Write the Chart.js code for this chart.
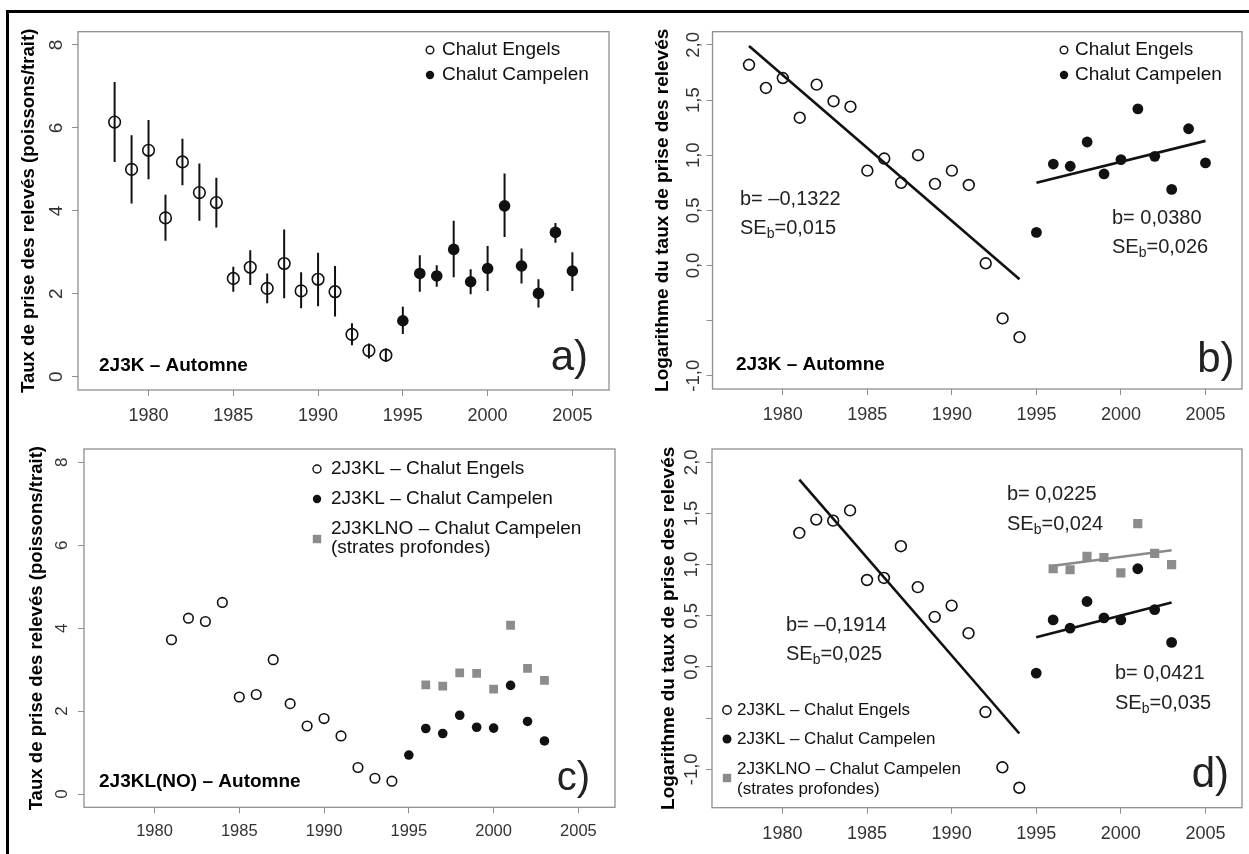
<!DOCTYPE html>
<html lang="fr">
<head>
<meta charset="utf-8">
<title>Taux de prise des relevés – 2J3K / 2J3KL(NO)</title>
<script src="https://cdn.jsdelivr.net/npm/chart.js@4.4.1/dist/chart.umd.min.js"></script>
<style>
    html, body { margin: 0; padding: 0; background: #fff; }
    #page { position: relative; width: 1249px; height: 854px; overflow: hidden; background: #fff; }
    #frame { position: absolute; left: 6px; top: 10px; width: 1400px; height: 1000px;
             border-top: 3px solid #000; border-left: 3px solid #000; }
    canvas { position: absolute; }
</style>
</head>
<body>
<div id="page">
    <div id="frame"></div>
    <canvas id="panel-a" width="612" height="413" style="left:10px;top:14px"></canvas>
    <canvas id="panel-b" width="625" height="413" style="left:624px;top:14px"></canvas>
    <canvas id="panel-c" width="612" height="424" style="left:10px;top:430px"></canvas>
    <canvas id="panel-d" width="625" height="424" style="left:624px;top:430px"></canvas>
</div>
<script>
const FAMILY = "'Liberation Sans', Arial, Helvetica, sans-serif";
const INK = '#111';
const GREY = '#8c8c8c';
const BOX = '#8f8f8f';
const TICK_INK = '#333';

// Shared axes
const X_MIN = 1975.84;
const X_MAX = 2007.16;
const X_TICKS = [1980, 1985, 1990, 1995, 2000, 2005];
const RATE_TICKS = [0, 2, 4, 6, 8];
const RATE_LABELS = ['0', '2', '4', '6', '8'];
const LOG_TICKS = [-1, -0.5, 0, 0.5, 1, 1.5, 2];
const LOG_LABELS = ['-1,0', '', '0,0', '0,5', '1,0', '1,5', '2,0'];

// 2J3K (a, b)
const YEARS_2J3K_ENGELS = [1978, 1979, 1980, 1981, 1982, 1983, 1984, 1985, 1986, 1987, 1988, 1989, 1990, 1991, 1992, 1993, 1994];
const YEARS_2J3K_CAMPELEN = [1995, 1996, 1997, 1998, 1999, 2000, 2001, 2002, 2003, 2004, 2005];

const RATE_2J3K_ENGELS    = [6.14, 5.00, 5.46, 3.83, 5.18, 4.44, 4.20, 2.37, 2.64, 2.13, 2.73, 2.07, 2.35, 2.05, 1.02, 0.63, 0.52];
const RATE_2J3K_ENGELS_LO = [5.18, 4.18, 4.76, 3.28, 4.62, 3.76, 3.60, 2.05, 2.21, 1.77, 1.89, 1.65, 1.70, 1.45, 0.76, 0.44, 0.36];
const RATE_2J3K_ENGELS_HI = [7.11, 5.82, 6.19, 4.39, 5.74, 5.14, 4.80, 2.65, 3.05, 2.49, 3.55, 2.52, 2.99, 2.67, 1.29, 0.80, 0.68];
const RATE_2J3K_CAMPELEN    = [1.35, 2.49, 2.43, 3.07, 2.29, 2.61, 4.12, 2.67, 2.01, 3.48, 2.55];
const RATE_2J3K_CAMPELEN_LO = [1.03, 2.05, 2.17, 2.40, 1.99, 2.07, 3.37, 2.25, 1.67, 3.23, 2.07];
const RATE_2J3K_CAMPELEN_HI = [1.69, 2.93, 2.69, 3.76, 2.59, 3.15, 4.90, 3.09, 2.35, 3.71, 3.00];

const LOG_2J3K_ENGELS   = [1.82, 1.61, 1.70, 1.34, 1.64, 1.49, 1.44, 0.86, 0.97, 0.75, 1.00, 0.74, 0.86, 0.73, 0.02, -0.48, -0.65];
const LOG_2J3K_CAMPELEN = [0.30, 0.92, 0.90, 1.12, 0.83, 0.96, 1.42, 0.99, 0.69, 1.24, 0.93];
const FIT_2J3K_ENGELS_YEARS = [1978, 1994];
const FIT_2J3K_ENGELS       = [1.99, -0.125];
const FIT_2J3K_CAMPELEN_YEARS = [1995, 2005];
const FIT_2J3K_CAMPELEN       = [0.75, 1.13];

// 2J3KL(NO) (c, d)
const YEARS_2J3KL_ENGELS = [1981, 1982, 1983, 1984, 1985, 1986, 1987, 1988, 1989, 1990, 1991, 1992, 1993, 1994];
const YEARS_2J3KL_CAMPELEN = [1995, 1996, 1997, 1998, 1999, 2000, 2001, 2002, 2003];
const YEARS_DEEP = [1996, 1997, 1998, 1999, 2000, 2001, 2002, 2003];

const RATE_2J3KL_ENGELS   = [3.72, 4.24, 4.16, 4.62, 2.34, 2.40, 3.24, 2.18, 1.64, 1.82, 1.40, 0.64, 0.38, 0.31];
const RATE_2J3KL_CAMPELEN = [0.94, 1.58, 1.46, 1.90, 1.61, 1.59, 2.62, 1.75, 1.28];
const RATE_DEEP           = [2.63, 2.60, 2.92, 2.91, 2.53, 4.07, 3.03, 2.74];

const LOG_2J3KL_ENGELS   = [1.31, 1.44, 1.43, 1.53, 0.85, 0.87, 1.18, 0.78, 0.49, 0.60, 0.33, -0.44, -0.98, -1.18];
const LOG_2J3KL_CAMPELEN = [-0.06, 0.46, 0.38, 0.64, 0.48, 0.46, 0.96, 0.56, 0.24];
const LOG_DEEP           = [0.96, 0.95, 1.08, 1.07, 0.92, 1.40, 1.11, 1.00];
const FIT_2J3KL_ENGELS_YEARS = [1981, 1994];
const FIT_2J3KL_ENGELS       = [1.83, -0.65];
const FIT_2J3KL_CAMPELEN_YEARS = [1995, 2003];
const FIT_2J3KL_CAMPELEN       = [0.29, 0.63];
const FIT_DEEP_YEARS = [1996, 2003];
const FIT_DEEP       = [0.99, 1.14];

const RATE_TITLE = 'Taux de prise des relevés (poissons/trait)';
const LOG_TITLE = 'Logarithme du taux de prise des relevés';

// ---- dataset helpers ----
const pts = (years, vals) => years.map((x, i) => ({ x, y: vals[i] }));
const spans = (years, lo, hi) => years.map((x, i) => ({ x, y: [lo[i], hi[i]] }));

function openPts(data, r) {
    return { type: 'scatter', data, pointStyle: 'circle', pointRadius: r, pointBorderWidth: 1.6,
             pointBorderColor: INK, pointBackgroundColor: 'rgba(0,0,0,0)' };
}
function filledPts(data, r) {
    return { type: 'scatter', data, pointStyle: 'circle', pointRadius: r, pointBorderWidth: 0,
             pointBorderColor: INK, pointBackgroundColor: INK };
}
function squarePts(data, r) {
    return { type: 'scatter', data, pointStyle: 'rect', pointRadius: r, pointBorderWidth: 0,
             pointBorderColor: GREY, pointBackgroundColor: GREY };
}
function errBars(data) {
    return { type: 'bar', data, backgroundColor: INK, borderWidth: 0, grouped: false,
             maxBarThickness: 2 };
}
function fitLine(years, vals, color) {
    return { type: 'line', data: pts(years, vals), borderColor: color, borderWidth: 2.6,
             pointRadius: 0, fill: false, tension: 0 };
}

// ---- drawing helpers ----
const font = (size, weight) => `${weight || 'normal'} ${size}px ${FAMILY}`;

function markerAt(ctx, kind, x, y, r) {
    ctx.beginPath();
    if (kind === 'square') {
        ctx.fillStyle = GREY;
        ctx.fillRect(x - r, y - r, 2 * r, 2 * r);
        return;
    }
    ctx.arc(x, y, r, 0, Math.PI * 2);
    if (kind === 'filled') {
        ctx.fillStyle = INK;
        ctx.fill();
    } else {
        ctx.lineWidth = 1.4;
        ctx.strokeStyle = INK;
        ctx.stroke();
    }
}

// parts: plain strings, or { sub: 'b' } for a lowered small piece
function drawRich(ctx, x, y, parts, size, weight, color) {
    ctx.fillStyle = color || INK;
    ctx.textBaseline = 'middle';
    ctx.textAlign = 'left';
    let cx = x;
    parts.forEach(p => {
        if (typeof p === 'string') {
            ctx.font = font(size, weight);
            ctx.fillText(p, cx, y);
            cx += ctx.measureText(p).width;
        } else {
            ctx.font = font(size * 0.7, weight);
            ctx.fillText(p.sub, cx, y + size * 0.32);
            cx += ctx.measureText(p.sub).width;
        }
    });
}

function decor(cfg) {
    return {
        id: 'decor',
        beforeDatasetsDraw(chart) {
            const { ctx, chartArea: a } = chart;
            ctx.save();
            ctx.strokeStyle = BOX;
            ctx.lineWidth = 1.3;
            ctx.strokeRect(a.left, a.top, a.right - a.left, a.bottom - a.top);
            ctx.restore();
        },
        afterDraw(chart) {
            const { ctx, chartArea: a, scales: { y } } = chart;
            ctx.save();

            // y tick labels run along the axis, bottom to top
            ctx.fillStyle = TICK_INK;
            ctx.font = font(cfg.yTickSize);
            ctx.textAlign = 'center';
            ctx.textBaseline = 'middle';
            cfg.yTicks.forEach((v, i) => {
                const label = cfg.yLabels[i];
                if (!label) return;
                ctx.save();
                ctx.translate(a.left + cfg.yLabelDx, y.getPixelForValue(v));
                ctx.rotate(-Math.PI / 2);
                ctx.fillText(label, 0, 0);
                ctx.restore();
            });

            // legend
            cfg.legend.forEach(item => {
                if (item.kind) markerAt(ctx, item.kind, a.left + item.sx, a.top + item.sy, item.r);
                if (item.text) drawRich(ctx, a.left + item.tx, a.top + item.ty, [item.text], cfg.legendSize);
            });

            // slopes, region label
            cfg.notes.forEach(n => drawRich(ctx, a.left + n.dx, a.top + n.dy, n.parts, n.size, n.weight, n.color));

            // panel letter
            ctx.fillStyle = '#222';
            ctx.font = font(cfg.letterSize);
            ctx.textAlign = 'right';
            ctx.textBaseline = 'alphabetic';
            ctx.fillText(cfg.letter, a.left + cfg.letterDx, a.top + cfg.letterDy);
            ctx.restore();
        }
    };
}

function buildPanel(id, cfg) {
    return new Chart(document.getElementById(id), {
        type: 'scatter',
        data: { datasets: cfg.datasets },
        options: {
            responsive: false,
            animation: false,
            events: [],
            layout: { padding: { top: cfg.padTop, right: cfg.padRight, left: 0, bottom: 0 } },
            plugins: { legend: { display: false }, tooltip: { enabled: false } },
            scales: {
                x: {
                    type: 'linear', min: X_MIN, max: X_MAX, offset: false,
                    afterBuildTicks: s => { s.ticks = X_TICKS.map(v => ({ value: v })); },
                    afterFit: s => { s.height = cfg.xAxisHeight; },
                    grid: { drawOnChartArea: false, drawTicks: true, tickLength: 6, color: BOX, offset: false },
                    border: { display: false },
                    ticks: { font: { family: FAMILY, size: cfg.tickSize }, color: TICK_INK,
                             padding: cfg.xTickPad, maxRotation: 0, autoSkip: false,
                             callback: v => String(v) }
                },
                y: {
                    type: 'linear', min: cfg.yMin, max: cfg.yMax,
                    afterBuildTicks: s => { s.ticks = cfg.yTicks.map(v => ({ value: v })); },
                    afterFit: s => { s.width = cfg.yAxisWidth; },
                    grid: { drawOnChartArea: false, drawTicks: true, tickLength: 6, color: BOX },
                    border: { display: false },
                    ticks: { display: false },
                    title: { display: true, text: cfg.title, color: '#000',
                             font: { family: FAMILY, size: cfg.titleSize, weight: 'bold' },
                             padding: { top: cfg.titlePad, bottom: 0 } }
                }
            }
        },
        plugins: [decor(cfg)]
    });
}

const SE = (v) => ['SE', { sub: 'b' }, '=' + v];

// a) rates with error bars, 2J3K
buildPanel('panel-a', {
    padTop: 17.7, padRight: 13, yAxisWidth: 68, xAxisHeight: 37,
    yMin: -0.32, yMax: 8.32, yTicks: RATE_TICKS, yLabels: RATE_LABELS, yLabelDx: -21,
    title: RATE_TITLE, titleSize: 18.6, titlePad: 8, tickSize: 18, yTickSize: 19, xTickPad: 9,
    legendSize: 19,
    legend: [
        { kind: 'open', sx: 352, sy: 18.3, r: 3.8, tx: 364, ty: 18.3, text: 'Chalut Engels' },
        { kind: 'filled', sx: 352, sy: 43.3, r: 4.2, tx: 364, ty: 43.3, text: 'Chalut Campelen' }
    ],
    notes: [{ dx: 21, dy: 334.3, parts: ['2J3K – Automne'], size: 19, weight: 'bold', color: '#000' }],
    letter: 'a)', letterSize: 42, letterDx: 510, letterDy: 338.3,
    datasets: [
        openPts(pts(YEARS_2J3K_ENGELS, RATE_2J3K_ENGELS), 5.8),
        filledPts(pts(YEARS_2J3K_CAMPELEN, RATE_2J3K_CAMPELEN), 5.8),
        errBars(spans(YEARS_2J3K_ENGELS, RATE_2J3K_ENGELS_LO, RATE_2J3K_ENGELS_HI)),
        errBars(spans(YEARS_2J3K_CAMPELEN, RATE_2J3K_CAMPELEN_LO, RATE_2J3K_CAMPELEN_HI))
    ]
});

// b) log rates with regression lines, 2J3K
buildPanel('panel-b', {
    padTop: 17.7, padRight: 5.5, yAxisWidth: 88.5, xAxisHeight: 38,
    yMin: -1.12, yMax: 2.12, yTicks: LOG_TICKS, yLabels: LOG_LABELS, yLabelDx: -19,
    title: LOG_TITLE, titleSize: 19, titlePad: 27, tickSize: 18, yTickSize: 18.5, xTickPad: 9,
    legendSize: 19,
    legend: [
        { kind: 'open', sx: 351.5, sy: 18.3, r: 3.8, tx: 362.5, ty: 18.3, text: 'Chalut Engels' },
        { kind: 'filled', sx: 351.5, sy: 43.3, r: 4.2, tx: 362.5, ty: 43.3, text: 'Chalut Campelen' }
    ],
    notes: [
        { dx: 27.5, dy: 167.3, parts: ['b= –0,1322'], size: 20, color: '#222' },
        { dx: 27.5, dy: 196.3, parts: SE('0,015'), size: 20, color: '#222' },
        { dx: 399.5, dy: 186.3, parts: ['b= 0,0380'], size: 20, color: '#222' },
        { dx: 399.5, dy: 215.3, parts: SE('0,026'), size: 20, color: '#222' },
        { dx: 23.5, dy: 333.3, parts: ['2J3K – Automne'], size: 19, weight: 'bold', color: '#000' }
    ],
    letter: 'b)', letterSize: 42, letterDx: 522, letterDy: 340,
    datasets: [
        fitLine(FIT_2J3K_ENGELS_YEARS, FIT_2J3K_ENGELS, INK),
        fitLine(FIT_2J3K_CAMPELEN_YEARS, FIT_2J3K_CAMPELEN, INK),
        openPts(pts(YEARS_2J3K_ENGELS, LOG_2J3K_ENGELS), 5.4),
        filledPts(pts(YEARS_2J3K_CAMPELEN, LOG_2J3K_CAMPELEN), 5.4)
    ]
});

// c) rates, 2J3KL plus deep strata
buildPanel('panel-c', {
    padTop: 19, padRight: 7, yAxisWidth: 74, xAxisHeight: 46.7,
    yMin: -0.32, yMax: 8.32, yTicks: RATE_TICKS, yLabels: RATE_LABELS, yLabelDx: -22,
    title: RATE_TITLE, titleSize: 18.6, titlePad: 16, tickSize: 16.5, yTickSize: 17, xTickPad: 8,
    legendSize: 19,
    legend: [
        { kind: 'open', sx: 233, sy: 20, r: 4, tx: 247, ty: 20, text: '2J3KL – Chalut Engels' },
        { kind: 'filled', sx: 233, sy: 50, r: 4.2, tx: 247, ty: 50, text: '2J3KL – Chalut Campelen' },
        { kind: 'square', sx: 233, sy: 90, r: 4.2, tx: 247, ty: 80, text: '2J3KLNO – Chalut Campelen' },
        { tx: 247, ty: 99, text: '(strates profondes)' }
    ],
    notes: [{ dx: 15, dy: 333, parts: ['2J3KL(NO) – Automne'], size: 19, weight: 'bold', color: '#000' }],
    letter: 'c)', letterSize: 40, letterDx: 506, letterDy: 341,
    datasets: [
        openPts(pts(YEARS_2J3KL_ENGELS, RATE_2J3KL_ENGELS), 4.8),
        filledPts(pts(YEARS_2J3KL_CAMPELEN, RATE_2J3KL_CAMPELEN), 4.8),
        squarePts(pts(YEARS_DEEP, RATE_DEEP), 6.2)
    ]
});

// d) log rates with regression lines, 2J3KL plus deep strata
buildPanel('panel-d', {
    padTop: 19, padRight: 6, yAxisWidth: 88, xAxisHeight: 46.3,
    yMin: -1.375, yMax: 2.13, yTicks: LOG_TICKS, yLabels: LOG_LABELS, yLabelDx: -20,
    title: LOG_TITLE, titleSize: 19, titlePad: 33, tickSize: 18, yTickSize: 18.5, xTickPad: 10,
    legendSize: 17,
    legend: [
        { kind: 'open', sx: 15, sy: 261, r: 4.2, tx: 25, ty: 261, text: '2J3KL – Chalut Engels' },
        { kind: 'filled', sx: 15, sy: 290, r: 4.5, tx: 25, ty: 290, text: '2J3KL – Chalut Campelen' },
        { kind: 'square', sx: 15, sy: 329, r: 4.2, tx: 25, ty: 320, text: '2J3KLNO – Chalut Campelen' },
        { tx: 25, ty: 340, text: '(strates profondes)' }
    ],
    notes: [
        { dx: 295, dy: 45, parts: ['b= 0,0225'], size: 20, color: '#222' },
        { dx: 295, dy: 75, parts: SE('0,024'), size: 20, color: '#222' },
        { dx: 74, dy: 176, parts: ['b= –0,1914'], size: 20, color: '#222' },
        { dx: 74, dy: 205, parts: SE('0,025'), size: 20, color: '#222' },
        { dx: 403, dy: 224, parts: ['b= 0,0421'], size: 20, color: '#222' },
        { dx: 403, dy: 254, parts: SE('0,035'), size: 20, color: '#222' }
    ],
    letter: 'd)', letterSize: 42, letterDx: 517, letterDy: 337.7,
    datasets: [
        fitLine(FIT_2J3KL_ENGELS_YEARS, FIT_2J3KL_ENGELS, INK),
        fitLine(FIT_2J3KL_CAMPELEN_YEARS, FIT_2J3KL_CAMPELEN, INK),
        fitLine(FIT_DEEP_YEARS, FIT_DEEP, '#8a8a8a'),
        openPts(pts(YEARS_2J3KL_ENGELS, LOG_2J3KL_ENGELS), 5.4),
        filledPts(pts(YEARS_2J3KL_CAMPELEN, LOG_2J3KL_CAMPELEN), 5.4),
        squarePts(pts(YEARS_DEEP, LOG_DEEP), 6.5)
    ]
});
</script>
</body>
</html>
